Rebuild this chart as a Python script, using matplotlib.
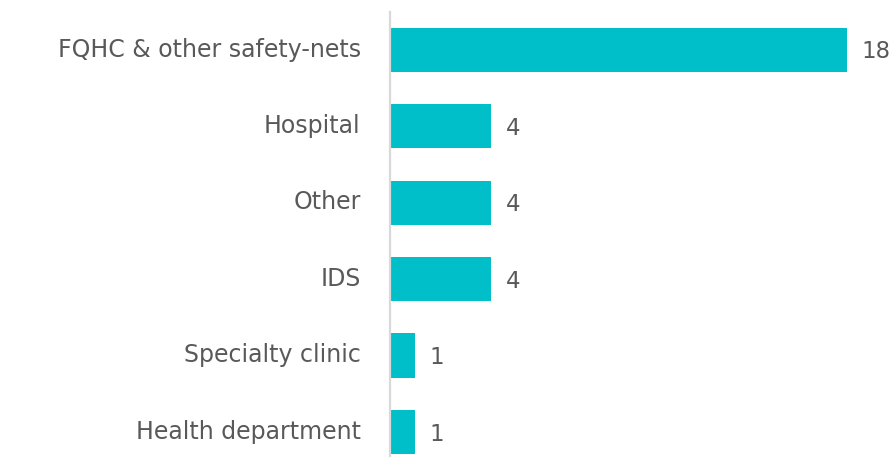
import matplotlib
matplotlib.use("Agg")
import matplotlib.pyplot as plt
import matplotlib.transforms as mtransforms

categories = ["FQHC & other safety-nets", "Hospital", "Other", "IDS",
              "Specialty clinic", "Health department"]
values = [18, 4, 4, 4, 1, 1]

BAR = "#00bfc8"
TXT = "#595959"
plt.rcParams["font.family"] = ["DejaVu Sans"]

fig = plt.figure(figsize=(8.92, 4.57), dpi=100)
ax = fig.add_axes([0.437, 0.0, 0.563, 0.974])
y = list(range(len(categories)))
ax.barh(y, values, height=0.58, color=BAR)
for yi, v in zip(y, values):
    ax.annotate(str(v), (v, yi), xytext=(10.5, -1.5), textcoords="offset points",
                va="center", ha="left", fontsize=16.5, color=TXT)

ax.set_yticks(y)
ax.set_yticklabels(categories, fontsize=17, color=TXT)
ax.tick_params(axis="y", length=0, pad=21)
# nudge the category labels up a little
up = mtransforms.ScaledTranslation(0, 2 / 72, fig.dpi_scale_trans)
for lbl in ax.get_yticklabels():
    lbl.set_transform(lbl.get_transform() + up)
ax.set_xticks([])
ax.set_xlim(0, 19.76)
ax.set_ylim(5.327, -0.497)
for s in ["top", "right", "bottom"]:
    ax.spines[s].set_visible(False)
ax.spines["left"].set_color("#d9d9d9")
ax.spines["left"].set_linewidth(1.6)

fig.savefig("out.png", dpi=100)
